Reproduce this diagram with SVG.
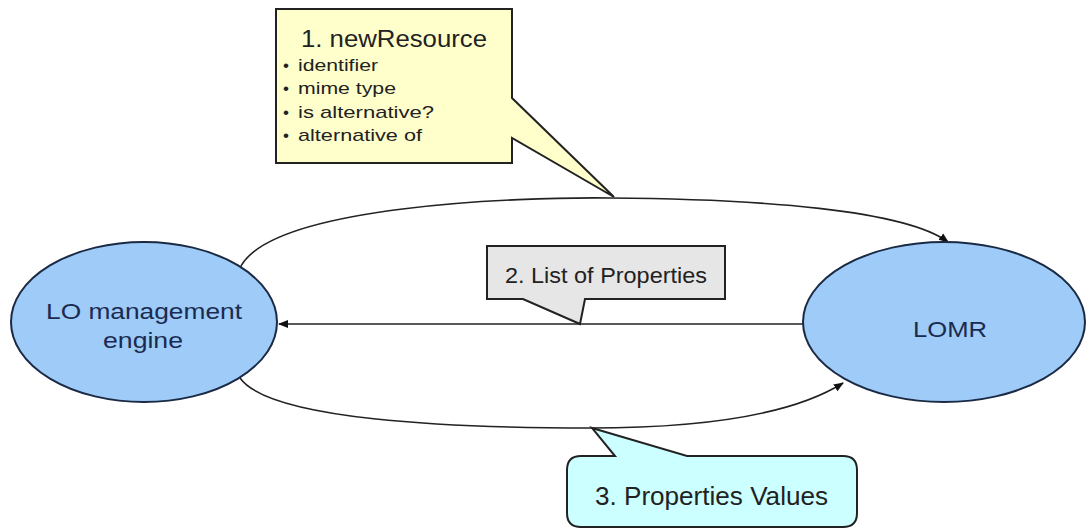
<svg xmlns="http://www.w3.org/2000/svg" width="1088" height="530" viewBox="0 0 1088 530">
<defs>
<marker id="arr" viewBox="0 0 10 10" refX="9" refY="5" markerWidth="10" markerHeight="10" markerUnits="userSpaceOnUse" orient="auto">
<path d="M0,1 L10,5 L0,9 Z" fill="#111"/>
</marker>
<style>
.node{fill:#9ecbf7;stroke:#1b2a44;stroke-width:2}
.ntext{font-family:"Liberation Sans",Arial,sans-serif;font-size:22px;fill:#1b2a50}
.conn{fill:none;stroke:#222;stroke-width:1.6}
.call{stroke:#222;stroke-width:2;stroke-linejoin:miter}
.ctext{font-family:"Liberation Sans",Arial,sans-serif;fill:#222}
.b{font-size:17px}
</style>
</defs>
<rect width="1088" height="530" fill="#fff"/>
<g id="connectors">
<path class="conn" d="M240,268 C270,205 520,197 610,198 C760,199 905,210 948,242" marker-end="url(#arr)"/>
<path class="conn" d="M803,324 L279,324" marker-end="url(#arr)"/>
<path class="conn" d="M240,378 C270,420 450,428 590,428 C720,428 800,410 843,383" marker-end="url(#arr)"/>
</g>
<g id="node-lo">
<ellipse class="node" cx="144" cy="322" rx="133" ry="80"/>
<text class="ntext" x="46" y="319" textLength="196" lengthAdjust="spacingAndGlyphs">LO management</text>
<text class="ntext" x="103" y="348" textLength="80" lengthAdjust="spacingAndGlyphs">engine</text>
</g>
<g id="node-lomr">
<ellipse class="node" cx="944" cy="322" rx="141" ry="80"/>
<text class="ntext" x="913" y="337" font-size="25" textLength="74" lengthAdjust="spacingAndGlyphs">LOMR</text>
</g>
<g id="callout-1">
<path class="call" fill="#ffffcc" d="M276,9 L512,9 L512,98 L614,197 L512,138 L512,163 L276,163 Z"/>
<text class="ctext" x="301" y="47" font-size="23" textLength="186" lengthAdjust="spacingAndGlyphs">1. newResource</text>
<text class="ctext b" x="283" y="71">•</text>
<text class="ctext b" x="298" y="71" textLength="80" lengthAdjust="spacingAndGlyphs">identifier</text>
<text class="ctext b" x="283" y="94">•</text>
<text class="ctext b" x="298" y="94" textLength="98" lengthAdjust="spacingAndGlyphs">mime type</text>
<text class="ctext b" x="283" y="118">•</text>
<text class="ctext b" x="298" y="118" textLength="136" lengthAdjust="spacingAndGlyphs">is alternative?</text>
<text class="ctext b" x="283" y="141">•</text>
<text class="ctext b" x="298" y="141" textLength="124" lengthAdjust="spacingAndGlyphs">alternative of</text>
</g>
<g id="callout-2">
<path class="call" fill="#e6e6e6" d="M487,246 L725,246 L725,299 L585,299 L580,324 L523,299 L487,299 Z"/>
<text class="ctext" x="505" y="283" font-size="22" textLength="202" lengthAdjust="spacingAndGlyphs">2. List of Properties</text>
</g>
<g id="callout-3">
<path class="call" fill="#ccffff" d="M592,428 L687,456 L843,456 Q857,456 857,470 L857,513 Q857,527 843,527 L581,527 Q567,527 567,513 L567,470 Q567,456 581,456 L615,456 Z"/>
<text class="ctext" x="595" y="505" font-size="25" textLength="233" lengthAdjust="spacingAndGlyphs">3. Properties Values</text>
</g>
</svg>
